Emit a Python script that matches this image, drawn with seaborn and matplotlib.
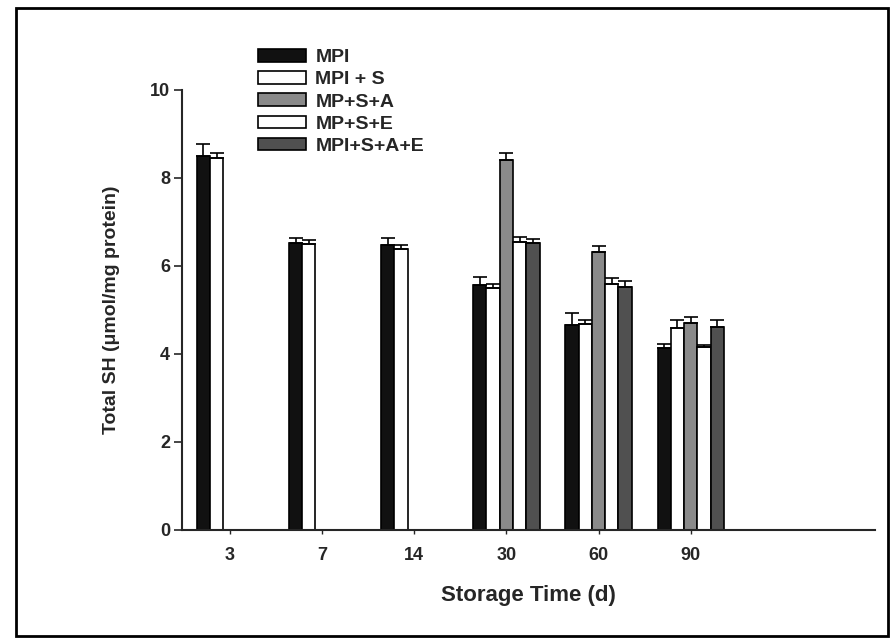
import numpy as np
import pandas as pd
import matplotlib
matplotlib.use("Agg")
import matplotlib.pyplot as plt
import seaborn as sns
from matplotlib.patches import Rectangle

# ---- data ----
days = ["3", "7", "14", "30", "60", "90"]
series = ["MPI", "MPI + S", "MP+S+A", "MP+S+E", "MPI+S+A+E"]
mpi        = [8.50, 6.52, 6.48, 5.57, 4.66, 4.13]
mpi_err    = [0.27, 0.12, 0.15, 0.18, 0.27, 0.10]
mpi_s      = [8.45, 6.50, 6.38, 5.50, 4.68, 4.59]
mpi_s_err  = [0.12, 0.08, 0.10, 0.10, 0.10, 0.18]
mp_s_a     = [np.nan, np.nan, np.nan, 8.41, 6.32, 4.70]
mp_s_a_err = [np.nan, np.nan, np.nan, 0.16, 0.13, 0.14]
mp_s_e     = [np.nan, np.nan, np.nan, 6.55, 5.60, 4.15]
mp_s_e_err = [np.nan, np.nan, np.nan, 0.12, 0.12, 0.06]
all4       = [np.nan, np.nan, np.nan, 6.52, 5.52, 4.62]
all4_err   = [np.nan, np.nan, np.nan, 0.10, 0.15, 0.16]

colors = ["#111111", "#ffffff", "#8a8a8a", "#ffffff", "#505050"]

vals = [mpi, mpi_s, mp_s_a, mp_s_e, all4]
errs = [mpi_err, mpi_s_err, mp_s_a_err, mp_s_e_err, all4_err]
rows = []
for s, v, e in zip(series, vals, errs):
    for d, vv, ee in zip(days, v, e):
        if not np.isnan(vv):
            rows.append({"day": d, "series": s, "value": vv, "err": ee})
df = pd.DataFrame(rows)

sns.set_style("ticks")
plt.rcParams["font.family"] = ["Liberation Sans", "DejaVu Sans"]

fig = plt.figure(figsize=(8.93, 6.39), dpi=100)
ax = fig.add_axes([182/893, 109/639, (875-182)/893, (530-90)/639])

sns.barplot(data=df, x="day", y="value", hue="series", order=days,
            hue_order=series, palette=colors, width=0.72, dodge=True,
            edgecolor="black", linewidth=1.2, errorbar=None, ax=ax,
            saturation=1)

# error bars (upper only) on top of each bar
for cont, s in zip(ax.containers, series):
    sub = df[df["series"] == s].set_index("day")
    for p in cont.patches:
        cx = p.get_x() + p.get_width() / 2
        d = days[int(round(cx))]
        h = p.get_height()
        e = sub.loc[d, "err"]
        ax.errorbar(cx, h, yerr=[[0], [e]], fmt="none", ecolor="black",
                    elinewidth=1.2, capsize=5, capthick=1.2, zorder=5)

ax.set_ylim(0, 10)
ax.set_xlim(-0.52, 7.0)
ax.set_yticks([0, 2, 4, 6, 8, 10])
sns.despine(ax=ax, top=True, right=True)
for sp in ["left", "bottom"]:
    ax.spines[sp].set_linewidth(1.5)
ax.tick_params(axis="y", direction="out", length=6, width=1.2, pad=2.5,
               labelsize=13)
ax.tick_params(axis="x", direction="out", length=3, width=1.0, pad=9,
               labelsize=13)
for t in ax.get_xticklabels() + ax.get_yticklabels():
    t.set_fontweight("bold")

ax.set_xlabel("Storage Time (d)", fontsize=16, fontweight="bold", labelpad=15)
ax.set_ylabel("Total SH (\u03bcmol/mg protein)", fontsize=14,
              fontweight="bold", labelpad=22)

handles, labels = ax.get_legend_handles_labels()
leg = ax.legend(handles, labels, loc="upper left",
                bbox_to_anchor=(258/893, 1 - 49/639),
                bbox_transform=fig.transFigure, frameon=False,
                prop={"weight": "bold", "size": 14},
                handlelength=2.45, handleheight=0.62, handletextpad=0.5,
                labelspacing=0.26, borderpad=0, borderaxespad=0)

# outer frame of the figure
fig.patches.append(Rectangle((16/893, 1 - 636/639), (888-16)/893,
                             (636-8)/639, transform=fig.transFigure,
                             fill=False, edgecolor="black", linewidth=2))

fig.savefig("out.png", dpi=100)
